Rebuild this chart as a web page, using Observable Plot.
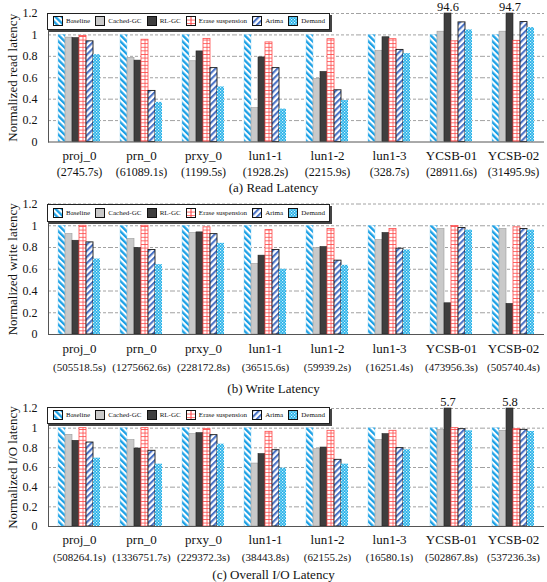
<!DOCTYPE html>
<html><head><meta charset="utf-8">
<script src="https://cdn.jsdelivr.net/npm/d3@7"></script>
<script src="https://cdn.jsdelivr.net/npm/@observablehq/plot@0.6"></script>
<style>
body{margin:0;background:#fff;}
#root{position:relative;width:547px;height:582px;overflow:hidden;font-family:'Liberation Serif','Times New Roman',serif;color:#111;}
#root svg, #root svg text{font-family:'Liberation Serif','Times New Roman',serif !important;}
.panel{position:absolute;left:0;width:547px;}
.cap{position:absolute;left:0;width:547px;text-align:center;font-size:13px;line-height:14px;}
.legend{position:absolute;left:47px;width:283px;box-sizing:border-box;display:flex;align-items:center;justify-content:space-between;
 border:1px solid #222;box-shadow:2px 2px 0 #444;background:#fff;font-size:7px;padding:0 4px 0 5px;}
.item{display:flex;align-items:center;white-space:nowrap;}
.item svg{margin-right:3px;display:block;}
</style></head>
<body>
<svg width="0" height="0" style="position:absolute">
<defs>
<pattern id="pBase" patternUnits="userSpaceOnUse" width="4.4" height="4.4" patternTransform="rotate(-45)">
 <rect width="4.4" height="4.4" fill="#fff"/><rect width="2.3" height="4.4" fill="#1aa0e6"/>
</pattern>
<pattern id="pArima" patternUnits="userSpaceOnUse" width="4.4" height="4.4" patternTransform="rotate(45)">
 <rect width="4.4" height="4.4" fill="#fff"/><rect width="2.1" height="4.4" fill="#4a73c6"/>
</pattern>
<pattern id="pErase" patternUnits="userSpaceOnUse" width="4" height="3.6">
 <rect width="4" height="3.6" fill="#fff"/><rect width="4" height="0.9" fill="#ff5a5a"/>
</pattern>
<pattern id="pDemand" patternUnits="userSpaceOnUse" width="3" height="3">
 <rect width="3" height="3" fill="#22b0e8"/><rect width="1.2" height="1.2" fill="#d8f2fc"/><rect x="1.5" y="1.5" width="1.2" height="1.2" fill="#d8f2fc"/>
</pattern>
</defs>
</svg>
<div id="root"></div>
<script>
const FONT = "'Liberation Serif','Times New Roman',serif";

const series = ["Baseline", "Cached-GC", "RL-GC", "Erase suspension", "Arima", "Demand"];
const workloads = ["proj_0", "prn_0", "prxy_0", "lun1-1", "lun1-2", "lun1-3", "YCSB-01", "YCSB-02"];
const yTicks = [0, 0.2, 0.4, 0.6, 0.8, 1, 1.2];

// (a) Read latency
const readTimes = ["(2745.7s)", "(61089.1s)", "(1199.5s)", "(1928.2s)", "(2215.9s)", "(328.7s)", "(28911.6s)", "(31495.9s)"];
const readBaseline = [1, 1, 1, 1, 1, 1, 1, 1];
const readCached   = [0.975, 0.785, 0.754, 0.316, 0.588, 0.852, 1.03, 1.03];
const readRL       = [0.97, 0.76, 0.846, 0.79, 0.654, 0.978, 94.6, 94.7];
const readErase    = [0.99, 0.955, 0.963, 0.93, 0.96, 0.96, 0.94, 0.945];
const readArima    = [0.94, 0.477, 0.69, 0.69, 0.483, 0.86, 1.117, 1.12];
const readDemand   = [0.815, 0.37, 0.514, 0.307, 0.387, 0.825, 1.046, 1.068];

// (b) Write latency
const writeTimes = ["(505518.5s)", "(1275662.6s)", "(228172.8s)", "(36515.6s)", "(59939.2s)", "(16251.4s)", "(473956.3s)", "(505740.4s)"];
const writeBaseline = [1, 1, 1, 1, 1, 1, 1, 1];
const writeCached   = [0.923, 0.878, 0.933, 0.648, 0.795, 0.868, 0.97, 0.97];
const writeRL       = [0.862, 0.795, 0.939, 0.725, 0.804, 0.933, 0.287, 0.281];
const writeErase    = [1.0, 1.0, 0.985, 0.96, 0.97, 0.97, 0.997, 0.985];
const writeArima    = [0.847, 0.777, 0.923, 0.777, 0.679, 0.789, 0.979, 0.97];
const writeDemand   = [0.694, 0.642, 0.838, 0.6, 0.636, 0.777, 0.96, 0.96];

// (c) Overall I/O latency
const ioTimes = ["(508264.1s)", "(1336751.7s)", "(229372.3s)", "(38443.8s)", "(62155.2s)", "(16580.1s)", "(502867.8s)", "(537236.3s)"];
const ioBaseline = [1, 1, 1, 1, 1, 1, 1, 1];
const ioCached   = [0.932, 0.878, 0.939, 0.64, 0.786, 0.878, 0.98, 0.973];
const ioRL       = [0.871, 0.793, 0.949, 0.736, 0.803, 0.939, 5.7, 5.8];
const ioErase    = [1.0, 1.0, 0.99, 0.963, 0.973, 0.973, 1.0, 0.99];
const ioArima    = [0.854, 0.77, 0.929, 0.776, 0.678, 0.797, 0.99, 0.983];
const ioDemand   = [0.695, 0.634, 0.837, 0.593, 0.634, 0.78, 0.973, 0.966];

const YMAX = 1.2;
const seriesStyle = [
  {fill: "url(#pBase)", stroke: "#8fd0f0", strokeWidth: 0.4},
  {fill: "#c9c9c9", stroke: "#9a9a9a", strokeWidth: 0.6},
  {fill: "#3e3e3e", stroke: "#222", strokeWidth: 0.6},
  {fill: "url(#pErase)", stroke: "#ff4a4a", strokeWidth: 0.8},
  {fill: "url(#pArima)", stroke: "#1a1a1a", strokeWidth: 0.9},
  {fill: "url(#pDemand)", stroke: "none"}
];

const panels = [
  {values: [readBaseline, readCached, readRL, readErase, readArima, readDemand], times: readTimes,
   ylabel: "Normalized read latency", caption: "(a) Read Latency", tfs: 12,
   top: 0, height: 180, mt: 13, mb: 38.5, d1: 17.5, d2: 33.5, capY: 188, legTop: 12.5, legH: 17.5},
  {values: [writeBaseline, writeCached, writeRL, writeErase, writeArima, writeDemand], times: writeTimes,
   ylabel: "Normalized write latency", caption: "(b) Write Latency", tfs: 11,
   top: 190, height: 190, mt: 13.5, mb: 46, d1: 18, d2: 36, capY: 389, legTop: 204, legH: 18},
  {values: [ioBaseline, ioCached, ioRL, ioErase, ioArima, ioDemand], times: ioTimes,
   ylabel: "Normalized I/O latency", caption: "(c) Overall I/O Latency", tfs: 11,
   top: 393, height: 175, mt: 15, mb: 42, d1: 17, d2: 34, capY: 575, legTop: 407, legH: 16.5}
];

const root = document.getElementById("root");

function swatch(j) {
  const ns = "http://www.w3.org/2000/svg";
  const s = document.createElementNS(ns, "svg");
  s.setAttribute("width", 10); s.setAttribute("height", 10);
  const r = document.createElementNS(ns, "rect");
  r.setAttribute("x", 0.5); r.setAttribute("y", 0.5); r.setAttribute("width", 9); r.setAttribute("height", 9);
  r.setAttribute("fill", seriesStyle[j].fill);
  r.setAttribute("stroke", "#111"); r.setAttribute("stroke-width", 1);
  s.appendChild(r);
  if (series[j] === "Erase suspension") {
    const l = document.createElementNS(ns, "line");
    l.setAttribute("x1", 5); l.setAttribute("x2", 5); l.setAttribute("y1", 1); l.setAttribute("y2", 9);
    l.setAttribute("stroke", "#ff3a3a"); l.setAttribute("stroke-width", 1);
    s.appendChild(l);
  }
  return s;
}

for (const P of panels) {
  const rows = [];
  workloads.forEach((w, i) => series.forEach((s, j) => rows.push({w, s, v: P.values[j][i]})));
  const chart = Plot.plot({
    width: 547, height: P.height,
    marginLeft: 45, marginRight: 0, marginTop: P.mt, marginBottom: P.mb,
    style: {fontFamily: FONT, fontSize: "12px", overflow: "visible", background: "transparent", color: "#111"},
    fx: {domain: workloads, padding: 0, axis: null, label: null},
    x: {domain: series, paddingInner: 0, paddingOuter: 1.09, axis: null},
    y: {domain: [0, YMAX], axis: null},
    marks: [
      Plot.gridY(yTicks.filter(d => d > 0), {stroke: "#8a8a8a", strokeOpacity: 1, strokeDasharray: "3,2", strokeWidth: 0.8}),
      ...series.map((s, j) => Plot.barY(rows.filter(r => r.s === s),
        {fx: "w", x: "s", y: r => Math.min(r.v, YMAX), ...seriesStyle[j]})),
      Plot.ruleX(rows.filter(r => r.s === "Erase suspension"),
        {fx: "w", x: "s", y1: 0, y2: r => Math.min(r.v, YMAX), stroke: "#ff4a4a", strokeWidth: 0.8}),
      Plot.text(rows.filter(r => r.v > YMAX),
        {fx: "w", x: "s", y: () => YMAX, text: r => String(r.v), dy: -6.5, fontSize: 12.5}),
      Plot.ruleY([0], {stroke: "#555", strokeWidth: 1}),
      Plot.frame({anchor: "left", facetAnchor: "left", stroke: "#555"}),
      Plot.axisY({ticks: yTicks, tickSize: 0, tickPadding: 11, fontSize: 12, label: null, tickFormat: d => String(d)}),
      Plot.text([P.ylabel], {frameAnchor: "left", textAnchor: "middle", rotate: -90, dx: -36, fontSize: 13, facetAnchor: "left"}),
      Plot.text(workloads, {fx: d => d, text: d => d, frameAnchor: "bottom", dy: P.d1, fontSize: 13}),
      Plot.text(workloads.map((w, i) => ({w, t: P.times[i]})), {fx: "w", text: "t", frameAnchor: "bottom", dy: P.d2, fontSize: P.tfs})
    ]
  });
  const div = document.createElement("div");
  div.className = "panel";
  div.style.top = P.top + "px";
  div.appendChild(chart);
  root.appendChild(div);

  const cap = document.createElement("div");
  cap.className = "cap";
  cap.style.top = (P.capY - 7) + "px";
  cap.textContent = P.caption;
  root.appendChild(cap);

  const leg = document.createElement("div");
  leg.className = "legend";
  leg.style.top = P.legTop + "px";
  leg.style.height = P.legH + "px";
  series.forEach((s, j) => {
    const it = document.createElement("div");
    it.className = "item";
    it.appendChild(swatch(j));
    const t = document.createElement("span");
    t.textContent = s;
    it.appendChild(t);
    leg.appendChild(it);
  });
  root.appendChild(leg);
}
</script>
</body></html>
